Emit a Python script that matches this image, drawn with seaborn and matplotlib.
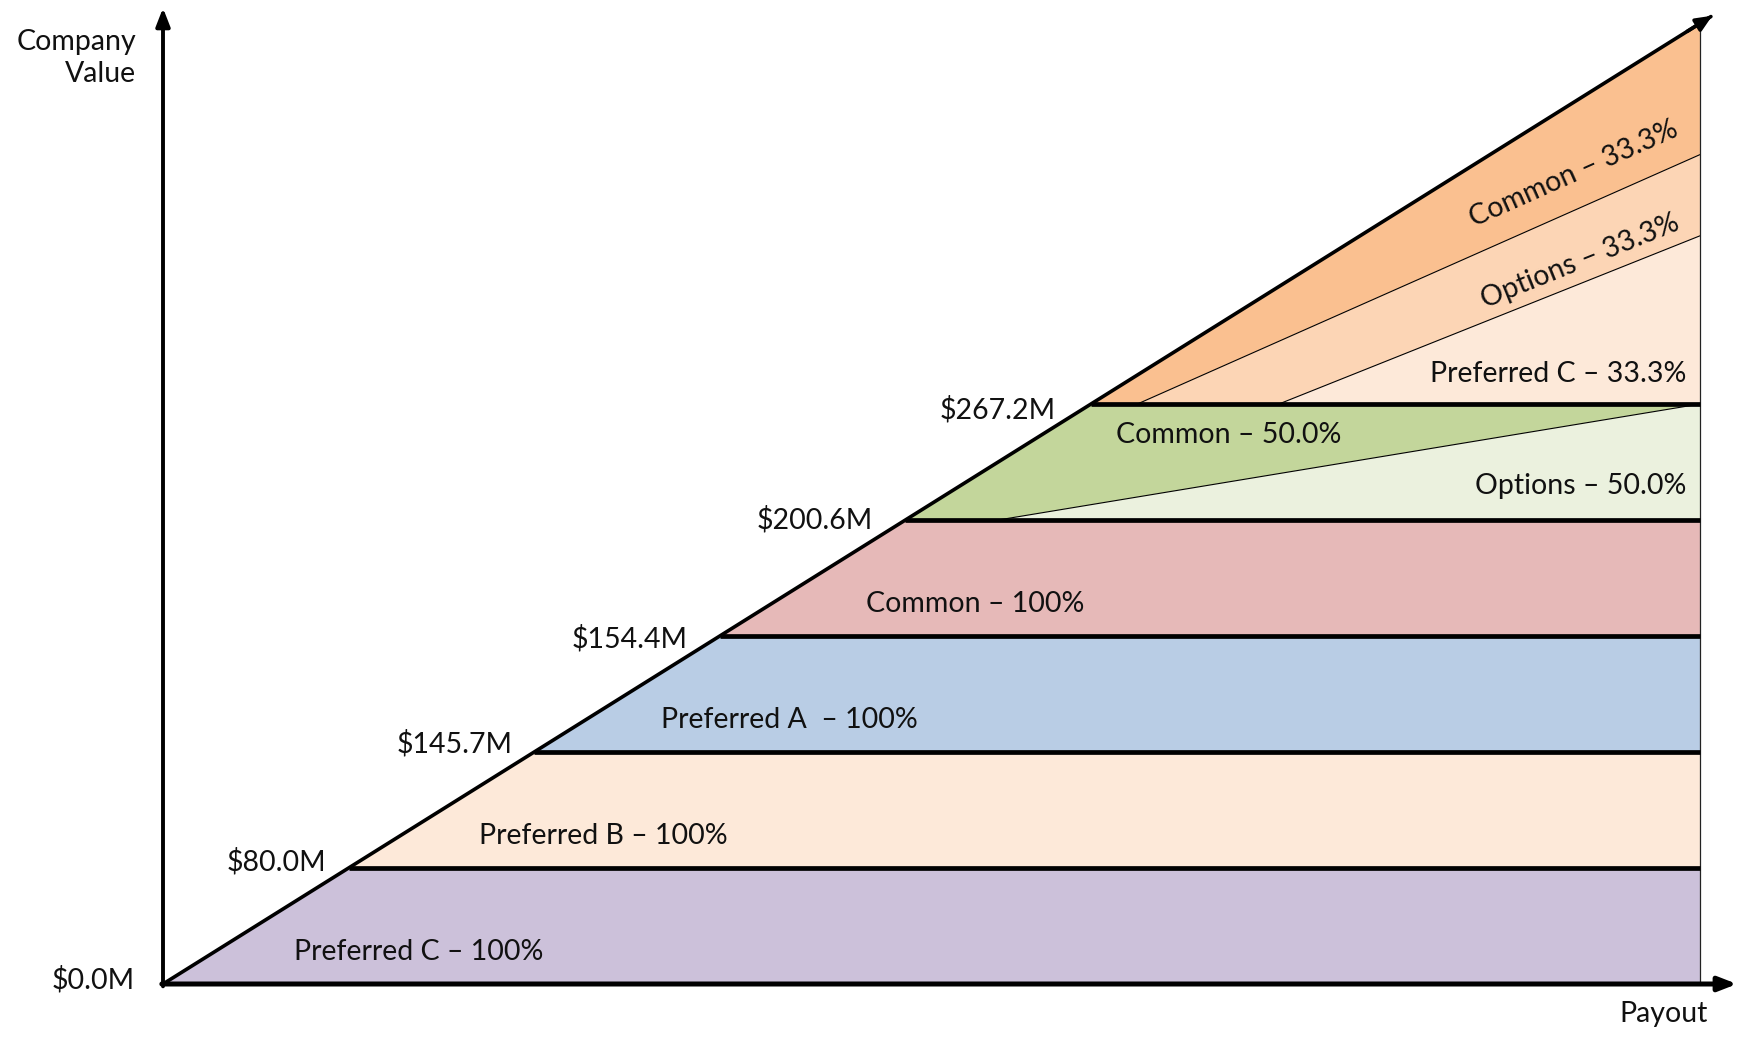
import matplotlib
matplotlib.use("Agg")
import matplotlib.pyplot as plt
import seaborn as sns
import numpy as np

# ---------------- data ----------------
breakpoints = ["$0.0M", "$80.0M", "$145.7M", "$154.4M", "$200.6M", "$267.2M"]
full_tranches = ["Preferred C – 100%", "Preferred B – 100%", "Preferred A  – 100%", "Common – 100%"]
full_colors = ["#CCC1DA", "#FDE9D9", "#B9CDE5", "#E6B9B8"]
split2_labels = ["Common – 50.0%", "Options – 50.0%"]
split2_colors = ["#C3D69B", "#EBF1DE"]
split3_labels = ["Common – 33.3%", "Options – 33.3%", "Preferred C – 33.3%"]
split3_colors = ["#FAC090", "#FCD5B5", "#FDE9D9"]

# ---------------- layout ----------------
sns.set_theme(style="white")
plt.rcParams["font.family"] = ["Lato", "DejaVu Sans"]

W, H, DPI = 1739, 1037, 100
U = 116.0           # pixels per tier unit
X0, Y0 = 163, 984   # origin in pixels
fig = plt.figure(figsize=(W / DPI, H / DPI), dpi=DPI)
ax = fig.add_axes([0, 0, 1, 1])
ax.set_xlim(-X0 / U, (W - X0) / U)
ax.set_ylim(-(H - Y0) / U, Y0 / U)
ax.set_axis_off()

slope = 1.6          # x advance of the diagonal per tier
xr = 13.25           # right edge
ytop = xr / slope
diag = lambda y: slope * y
FS = 20.5
TXT = "#111111"

# full bands
for i, (lab, col) in enumerate(zip(full_tranches, full_colors)):
    ax.fill([diag(i), xr, xr, diag(i + 1)], [i, i, i + 1, i + 1], color=col, lw=0, zorder=1)

# two-way split band (tier 4)
n2 = len(full_tranches)
s2 = diag(n2) + 0.8
ax.fill([diag(n2), s2, xr, diag(n2 + 1)], [n2, n2, n2 + 1, n2 + 1], color=split2_colors[0], lw=0, zorder=1)
ax.fill([s2, xr, xr], [n2, n2, n2 + 1], color=split2_colors[1], lw=0, zorder=1)
ax.plot([s2, xr], [n2, n2 + 1], color="black", lw=0.8, zorder=3)

# three-way split band (top)
n3 = n2 + 1
a0, a1 = diag(n3) + 0.4, diag(n3) + 1.62
ya, yb = 7.15, 6.45
ax.fill([diag(n3), a0, xr, xr], [n3, n3, ya, ytop], color=split3_colors[0], lw=0, zorder=1)
ax.fill([a0, a1, xr, xr], [n3, n3, yb, ya], color=split3_colors[1], lw=0, zorder=1)
ax.fill([a1, xr, xr], [n3, n3, yb], color=split3_colors[2], lw=0, zorder=1)
ax.plot([a0, xr], [n3, ya], color="black", lw=0.8, zorder=3)
ax.plot([a1, xr], [n3, yb], color="black", lw=0.8, zorder=3)

# horizontal boundaries
for i in range(1, len(breakpoints)):
    ax.plot([diag(i), xr], [i, i], color="black", lw=3.4, solid_capstyle="butt", zorder=4)

# right edge
ax.plot([xr, xr], [0, ytop], color="#222222", lw=0.9, zorder=3)

# diagonal
yy = np.array([0, 8.34])
sns.lineplot(x=slope * yy, y=yy, color="black", lw=2.6, ax=ax, zorder=5, sort=False)
ax.annotate("", xy=(slope * 8.36, 8.36), xytext=(slope * 8.2, 8.2),
            arrowprops=dict(arrowstyle="-|>,head_length=0.8,head_width=0.35", color="black", lw=2.6), zorder=6)

# axes arrows
ax.annotate("", xy=(0, (Y0 - 8) / U), xytext=(0, -0.02),
            arrowprops=dict(arrowstyle="-|>,head_length=0.9,head_width=0.35", color="black", lw=2.8,
                            shrinkA=0, shrinkB=0), zorder=6)
ax.annotate("", xy=((1737 - X0) / U, 0), xytext=(-0.01, 0),
            arrowprops=dict(arrowstyle="-|>,head_length=0.9,head_width=0.35", color="black", lw=3.6,
                            shrinkA=0, shrinkB=0), zorder=6)

# breakpoint labels
bp_off = [(-0.24, 0.04), (-0.19, 0.05), (-0.19, 0.07), (-0.28, -0.02), (-0.28, 0.0), (-0.3, -0.05)]
for i, (lab, (dx, dy)) in enumerate(zip(breakpoints, bp_off)):
    ax.text(diag(i) + dx, i + dy, lab, ha="right", va="center", fontsize=FS, color=TXT, zorder=7)

# band labels
for i, lab in enumerate(full_tranches):
    ax.text(diag(i) + 2.2, i + 0.28, lab, ha="center", va="center", fontsize=FS, color=TXT, zorder=7)

ax.text(9.19, n2 + 0.735, split2_labels[0], ha="center", va="center", fontsize=FS, color=TXT, zorder=7)
ax.text(13.13, n2 + 0.29, split2_labels[1], ha="right", va="center", fontsize=FS, color=TXT, zorder=7)

ax.text(12.16, 6.98, split3_labels[0], ha="center", va="center", rotation=24, rotation_mode="anchor",
        fontsize=FS, color=TXT, zorder=7)
ax.text(12.22, 6.23, split3_labels[1], ha="center", va="center", rotation=22, rotation_mode="anchor",
        fontsize=FS, color=TXT, zorder=7)
ax.text(13.13, n3 + 0.26, split3_labels[2], ha="right", va="center", fontsize=FS, color=TXT, zorder=7)

# axis titles
ax.text(-0.23, 7.98, "Company\nValue", ha="right", va="center", fontsize=FS, color=TXT, linespacing=1.3)
ax.text(13.32, -0.26, "Payout", ha="right", va="center", fontsize=FS, color=TXT)

fig.savefig("out.png", dpi=DPI)
